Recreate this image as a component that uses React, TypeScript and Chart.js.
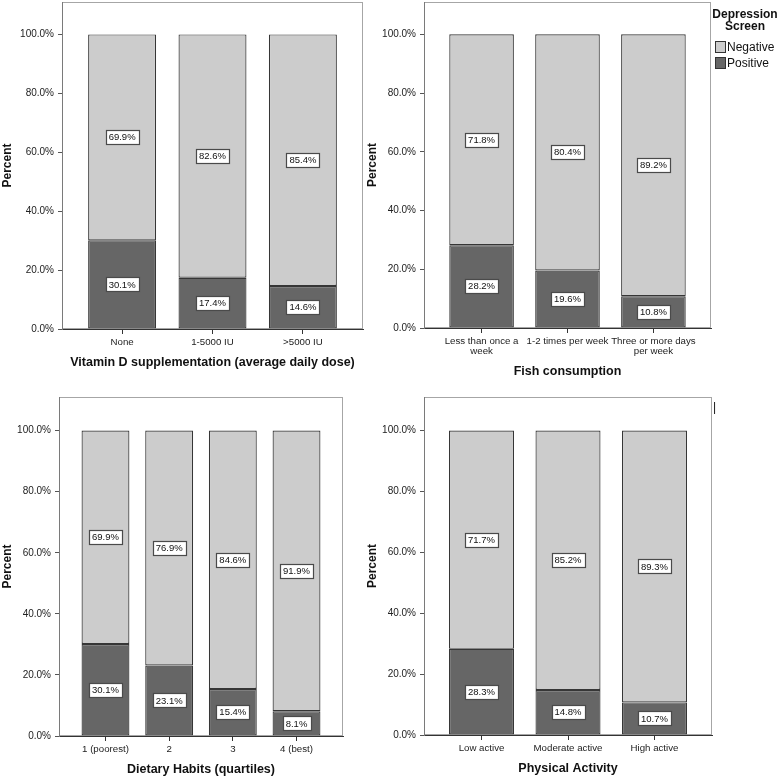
import { useEffect, useRef } from "react";
import { Chart, registerables } from "chart.js";
import type { Plugin } from "chart.js";

Chart.register(...registerables);

const vitaminLabels = ["None", "1-5000 IU", ">5000 IU"];
const vitaminPositive = [30.1, 17.4, 14.6];
const vitaminNegative = [69.9, 82.6, 85.4];

const fishLabels: (string | string[])[] = [["Less than once a", "week"], "1-2 times per week", ["Three or more days", "per week"]];
const fishPositive = [28.2, 19.6, 10.8];
const fishNegative = [71.8, 80.4, 89.2];

const dietLabels = ["1 (poorest)", "2", "3", "4 (best)"];
const dietPositive = [30.1, 23.1, 15.4, 8.1];
const dietNegative = [69.9, 76.9, 84.6, 91.9];

const activityLabels = ["Low active", "Moderate active", "High active"];
const activityPositive = [28.3, 14.8, 10.7];
const activityNegative = [71.7, 85.2, 89.3];

const yTicks = [0, 20, 40, 60, 80, 100];
const legendTitle = ["Depression", "Screen"];
const seriesNames = { neg: "Negative", pos: "Positive" };

const FONT = "'Liberation Sans', Arial, sans-serif";
const NEG_COLOR = "#cccccc";
const POS_COLOR = "#666666";

interface PanelCfg {
  title: string;
  labels: (string | string[])[];
  positive: number[];
  negative: number[];
  left: number;
  top: number;
  width: number;
  height: number;
  padding: { top: number; right: number; left: number; bottom: number };
  yWidth: number;
  xHeight: number;
  margin: number;
  xTitlePad: number;
  yTitlePad: number;
}

const panels: PanelCfg[] = [
  {
    title: "Vitamin D supplementation (average daily dose)",
    labels: vitaminLabels, positive: vitaminPositive, negative: vitaminNegative,
    left: 0, top: 0, width: 364, height: 390,
    padding: { top: 2, right: 1, left: 0, bottom: 0 },
    yWidth: 62, xHeight: 61, margin: 0.665, xTitlePad: 19.5, yTitlePad: 0.5,
  },
  {
    title: "Fish consumption",
    labels: fishLabels, positive: fishPositive, negative: fishNegative,
    left: 364, top: 0, width: 414, height: 390,
    padding: { top: 2, right: 67, left: 0, bottom: 0 },
    yWidth: 60, xHeight: 62, margin: 0.67, xTitlePad: 10.5, yTitlePad: 1,
  },
  {
    title: "Dietary Habits (quartiles)",
    labels: dietLabels, positive: dietPositive, negative: dietNegative,
    left: 0, top: 390, width: 364, height: 389,
    padding: { top: 7, right: 21, left: 0, bottom: 0 },
    yWidth: 59, xHeight: 43, margin: 0.73, xTitlePad: 1.5, yTitlePad: 0.5,
  },
  {
    title: "Physical Activity",
    labels: activityLabels, positive: activityPositive, negative: activityNegative,
    left: 364, top: 390, width: 414, height: 389,
    padding: { top: 7, right: 66, left: 0, bottom: 0 },
    yWidth: 60, xHeight: 44, margin: 0.665, xTitlePad: 2.5, yTitlePad: 1,
  },
];

// plot frame + white boxed value labels
const spssLook: Plugin<"bar"> = {
  id: "spssLook",
  beforeDraw(chart) {
    const { ctx, chartArea: a } = chart;
    ctx.save();
    ctx.strokeStyle = "#a6a6a6";
    ctx.lineWidth = 1;
    ctx.strokeRect(a.left + 0.5, a.top + 0.5, a.width - 1, a.height - 1);
    ctx.restore();
  },
  afterDatasetsDraw(chart) {
    const { ctx } = chart;
    ctx.save();
    ctx.font = `9.5px ${FONT}`;
    ctx.textAlign = "center";
    ctx.textBaseline = "middle";
    chart.data.datasets.forEach((ds, di) => {
      chart.getDatasetMeta(di).data.forEach((bar, i) => {
        const { x, y, base } = bar.getProps(["x", "y", "base"], true) as any;
        const cy = (y + base) / 2;
        const text = (ds.data[i] as any).y.toFixed(1) + "%";
        const w = Math.round(ctx.measureText(text).width + 6);
        const h = 14;
        const bx = Math.round(x - w / 2) + 0.5;
        const by = Math.round(cy - h / 2) + 0.5;
        ctx.fillStyle = "#fff";
        ctx.fillRect(bx, by, w, h);
        ctx.strokeStyle = "#4a4a4a";
        ctx.lineWidth = 1.2;
        ctx.strokeRect(bx, by, w, h);
        ctx.fillStyle = "#111";
        ctx.fillText(text, x, cy + 0.5);
      });
    });
    ctx.restore();
  },
};

function Panel({ cfg }: { cfg: PanelCfg }) {
  const canvasRef = useRef<HTMLCanvasElement>(null);

  useEffect(() => {
    if (!canvasRef.current) return;
    const n = cfg.labels.length;
    const barStyle = { borderColor: "#363636", borderWidth: 1.2, borderSkipped: false as const, categoryPercentage: 1, barPercentage: 0.752 };
    const chart = new Chart(canvasRef.current, {
      type: "bar",
      data: {
        datasets: [
          { label: seriesNames.pos, data: cfg.positive.map((v, i) => ({ x: i, y: v })), backgroundColor: POS_COLOR, ...barStyle },
          { label: seriesNames.neg, data: cfg.negative.map((v, i) => ({ x: i, y: v })), backgroundColor: NEG_COLOR, ...barStyle },
        ],
      } as any,
      options: {
        responsive: false,
        animation: false,
        layout: { padding: cfg.padding },
        plugins: { legend: { display: false }, tooltip: { enabled: false } },
        scales: {
          x: {
            type: "linear",
            offset: false,
            min: -cfg.margin,
            max: n - 1 + cfg.margin,
            stacked: true,
            afterBuildTicks: (s: any) => { s.ticks = cfg.labels.map((_, i) => ({ value: i })); },
            afterFit: (s: any) => { s.height = cfg.xHeight; s.paddingLeft = 0; s.paddingRight = 0; },
            ticks: {
              callback: (v: any) => cfg.labels[v as number] as any,
              maxRotation: 0,
              autoSkip: false,
              padding: 3,
              color: "#222",
              font: { family: FONT, size: 9.7, lineHeight: 1.03 },
            },
            grid: { offset: false, drawOnChartArea: false, drawTicks: true, tickLength: 5, color: "#333" },
            border: { display: true, color: "#333" },
            title: {
              display: true,
              text: cfg.title,
              color: "#111",
              font: { family: FONT, size: 12.5, weight: "bold", lineHeight: 1.2 },
              padding: { top: 0, bottom: cfg.xTitlePad },
            },
          },
          y: {
            min: 0,
            max: 111,
            stacked: true,
            afterBuildTicks: (s: any) => { s.ticks = yTicks.map((v) => ({ value: v })); },
            afterFit: (s: any) => { s.width = cfg.yWidth; s.paddingTop = 0; s.paddingBottom = 0; },
            ticks: {
              callback: (v: any) => Number(v).toFixed(1) + "%",
              padding: 4,
              color: "#222",
              font: { family: FONT, size: 10 },
            },
            grid: { drawOnChartArea: false, drawTicks: true, tickLength: 4, color: "#555" },
            border: { display: true, color: "#7a7a7a" },
            title: {
              display: true,
              text: "Percent",
              color: "#111",
              font: { family: FONT, size: 12, weight: "bold", lineHeight: 1.2 },
              padding: { top: cfg.yTitlePad, bottom: 0 },
            },
          },
        },
      },
      plugins: [spssLook],
    });
    return () => { chart.destroy(); };
  }, [cfg]);

  return (
    <canvas
      ref={canvasRef}
      width={cfg.width}
      height={cfg.height}
      style={{ position: "absolute", left: cfg.left, top: cfg.top, width: cfg.width, height: cfg.height }}
    />
  );
}

function Legend() {
  const item = (color: string, text: string, top: number) => (
    <div style={{ position: "absolute", left: 715, top, height: 12, display: "flex", alignItems: "center" }}>
      <div style={{ width: 9, height: 10, background: color, border: "1px solid #333" }} />
      <span style={{ marginLeft: 1, fontSize: 12, color: "#111", lineHeight: "12px" }}>{text}</span>
    </div>
  );
  return (
    <>
      <div style={{ position: "absolute", left: 712, top: 8, width: 66, textAlign: "center", fontWeight: "bold", fontSize: 12, lineHeight: "12px", color: "#111" }}>
        {legendTitle.map((t) => <div key={t}>{t}</div>)}
      </div>
      {item(NEG_COLOR, seriesNames.neg, 41)}
      {item(POS_COLOR, seriesNames.pos, 57)}
      <span style={{ position: "absolute", left: 713, top: 401, fontSize: 12, lineHeight: "12px", color: "#111" }}>|</span>
    </>
  );
}

export default function App() {
  return (
    <div style={{ position: "absolute", left: 0, top: 0, width: 778, height: 779, background: "#fff", fontFamily: FONT, overflow: "hidden" }}>
      {panels.map((p) => <Panel key={p.title} cfg={p} />)}
      <Legend />
    </div>
  );
}
